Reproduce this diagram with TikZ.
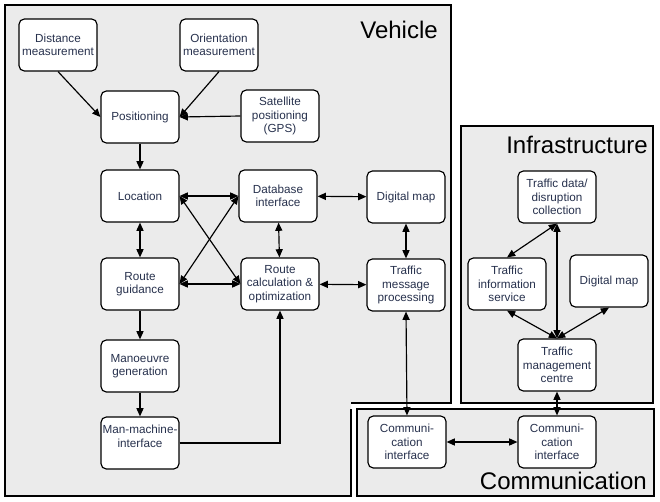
\documentclass[tikz,border=0pt]{standalone}
\usepackage{fontspec}
\setmainfont{Liberation Sans}
\usetikzlibrary{arrows.meta}

\begin{document}
\begin{tikzpicture}[x=0.03cm, y=-0.03cm,
  box/.style={draw, fill=white, line width=1pt, rounded corners=1.6mm, minimum width=23.4mm, minimum height=15.6mm, align=center, inner sep=1pt, text=txt, font=\fontsize{10}{11.5}\selectfont},
  link/.style={line width=1pt, -{Triangle[length=7pt,width=6pt]}},
  bilink/.style={line width=1pt, {Triangle[length=7pt,width=6pt]}-{Triangle[length=7pt,width=6pt]}},
  region/.style={line width=0.9pt},
  title/.style={anchor=base east, inner sep=0pt, font=\fontsize{20.5}{23}\selectfont}]
\definecolor{bg}{HTML}{EBEBEB}
\definecolor{txt}{HTML}{27314D}
\useasboundingbox (0,0) rectangle (660,502);
% regions
\fill[bg] (5,5) -| (451,403) -| (351,496) -| cycle;
\draw[region] (351,409) -- (351,496) -| (5,5) -| (451,403) -- (351,403);
\filldraw[region, fill=bg] (461,126) rectangle (653,403);
\filldraw[region, fill=bg] (357,409) rectangle (654,496);
\node[title] (vehicle) at (438,38) {Vehicle};
\node[title] (infra) at (648,153) {Infrastructure};
\node[title] (comm) at (647,489) {Communication};
% vehicle
\node[box] (dist) at (58,45) {Distance\\measurement};
\node[box] (orient) at (219,45) {Orientation\\measurement};
\node[box] (pos) at (140,117) {Positioning};
\node[box] (gps) at (280,116) {Satellite\\positioning\\(GPS)};
\node[box] (loc) at (140,196) {Location};
\node[box] (dbi) at (278,196) {Database\\interface};
\node[box] (vmap) at (406,197) {Digital map};
\node[box] (guide) at (140,284) {Route\\guidance};
\node[box] (rcalc) at (280,284) {Route\\calculation \&\\optimization};
\node[box] (tmp) at (406,285) {Traffic\\message\\processing};
\node[box] (manv) at (140,366) {Manoeuvre\\generation};
\node[box] (mmi) at (140,443) {Man-machine-\\interface\\\mbox{}};
% communication
\node[box] (vcom) at (407,442) {Communi-\\cation\\interface};
\node[box] (icom) at (557,442) {Communi-\\cation\\interface};
% infrastructure
\node[box] (tdc) at (557,197) {Traffic data/\\disruption\\collection};
\node[box] (tis) at (507,284) {Traffic\\information\\service};
\node[box] (imap) at (609,281) {Digital map};
\node[box] (tmc) at (557,365) {Traffic\\management\\centre};
% connectors
\draw[link] (dist.south) -- (pos.west);
\draw[link] (orient.south) -- (pos.east);
\draw[link] (gps.west) -- (pos.east);
\draw[link] (pos) -- (loc);
\draw[bilink] (loc) -- (dbi);
\draw[bilink] (loc.east) -- (rcalc.west);
\draw[bilink] (guide.east) -- (dbi.west);
\draw[bilink] (loc) -- (guide);
\draw[bilink] (guide) -- (rcalc);
\draw[bilink] (dbi) -- (rcalc);
\draw[bilink] (dbi) -- (vmap);
\draw[bilink] (vmap) -- (tmp);
\draw[bilink] (rcalc) -- (tmp);
\draw[link] (guide) -- (manv);
\draw[link] (manv) -- (mmi);
\draw[link] (mmi.east) -| (rcalc.south);
\draw[bilink] (tmp.south) -- (vcom.north);
\draw[bilink] (vcom) -- (icom);
\draw[bilink] (icom) -- (tmc);
\draw[bilink] (tmc.north) -- (tdc.south);
\draw[bilink] (tdc.south) -- (tis.north);
\draw[bilink] (tis.south) -- (tmc.north);
\draw[bilink] (imap.south) -- (tmc.north);
\end{tikzpicture}
\end{document}
